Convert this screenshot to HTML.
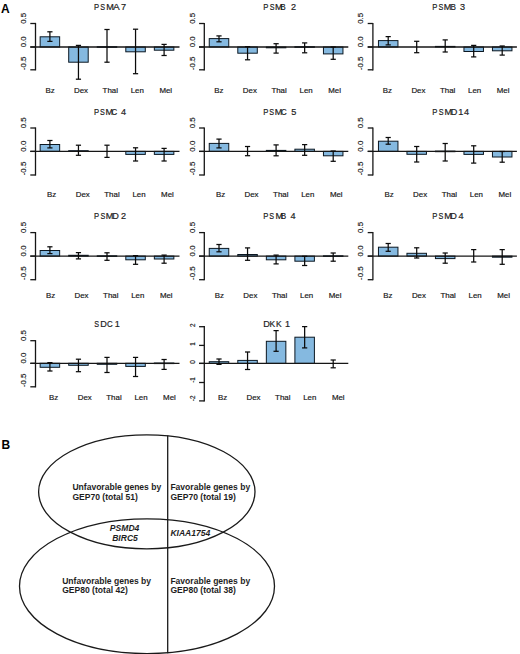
<!DOCTYPE html>
<html><head><meta charset="utf-8"><title>Figure</title>
<style>
html,body{margin:0;padding:0;background:#fff;}
body{width:520px;height:654px;overflow:hidden;}
svg{display:block;font-family:"Liberation Sans", sans-serif;}
</style></head>
<body>
<svg width="520" height="654" viewBox="0 0 520 654">
<rect x="0" y="0" width="520" height="654" fill="#fff"/>
<line x1="35.50" y1="22.90" x2="35.50" y2="70.40" stroke="#161616" stroke-width="1.3"/>
<line x1="30.30" y1="23.50" x2="35.50" y2="23.50" stroke="#161616" stroke-width="1.3"/>
<text transform="translate(25.70,23.80) rotate(-90)" font-size="7.9" fill="#161616" stroke="#161616" stroke-width="0.18">0.5</text>
<line x1="30.30" y1="47.00" x2="35.50" y2="47.00" stroke="#161616" stroke-width="1.3"/>
<text transform="translate(25.70,47.30) rotate(-90)" font-size="7.9" fill="#161616" stroke="#161616" stroke-width="0.18">0.0</text>
<line x1="30.30" y1="69.80" x2="35.50" y2="69.80" stroke="#161616" stroke-width="1.3"/>
<text transform="translate(25.70,70.10) rotate(-90)" font-size="7.9" fill="#161616" stroke="#161616" stroke-width="0.18">-0.5</text>
<rect x="40.15" y="36.80" width="19.50" height="10.20" fill="#85b9e0" stroke="#0c1822" stroke-width="1"/>
<rect x="68.70" y="47.00" width="19.50" height="15.20" fill="#85b9e0" stroke="#0c1822" stroke-width="1"/>
<rect x="97.25" y="46.70" width="19.50" height="0.60" fill="#85b9e0" stroke="#0c1822" stroke-width="1"/>
<rect x="125.80" y="47.00" width="19.50" height="4.80" fill="#85b9e0" stroke="#0c1822" stroke-width="1"/>
<rect x="154.35" y="47.00" width="19.50" height="3.20" fill="#85b9e0" stroke="#0c1822" stroke-width="1"/>
<line x1="30.30" y1="47.00" x2="179.50" y2="47.00" stroke="#161616" stroke-width="1.35"/>
<line x1="49.90" y1="31.80" x2="49.90" y2="41.40" stroke="#0a0a0a" stroke-width="1.25"/>
<line x1="47.30" y1="31.80" x2="52.50" y2="31.80" stroke="#0a0a0a" stroke-width="1.25"/>
<line x1="47.30" y1="41.40" x2="52.50" y2="41.40" stroke="#0a0a0a" stroke-width="1.25"/>
<line x1="78.45" y1="45.40" x2="78.45" y2="79.20" stroke="#0a0a0a" stroke-width="1.25"/>
<line x1="75.85" y1="45.40" x2="81.05" y2="45.40" stroke="#0a0a0a" stroke-width="1.25"/>
<line x1="75.85" y1="79.20" x2="81.05" y2="79.20" stroke="#0a0a0a" stroke-width="1.25"/>
<line x1="107.00" y1="29.50" x2="107.00" y2="62.20" stroke="#0a0a0a" stroke-width="1.25"/>
<line x1="104.40" y1="29.50" x2="109.60" y2="29.50" stroke="#0a0a0a" stroke-width="1.25"/>
<line x1="104.40" y1="62.20" x2="109.60" y2="62.20" stroke="#0a0a0a" stroke-width="1.25"/>
<line x1="135.55" y1="29.20" x2="135.55" y2="73.70" stroke="#0a0a0a" stroke-width="1.25"/>
<line x1="132.95" y1="29.20" x2="138.15" y2="29.20" stroke="#0a0a0a" stroke-width="1.25"/>
<line x1="132.95" y1="73.70" x2="138.15" y2="73.70" stroke="#0a0a0a" stroke-width="1.25"/>
<line x1="164.10" y1="44.40" x2="164.10" y2="55.50" stroke="#0a0a0a" stroke-width="1.25"/>
<line x1="161.50" y1="44.40" x2="166.70" y2="44.40" stroke="#0a0a0a" stroke-width="1.25"/>
<line x1="161.50" y1="55.50" x2="166.70" y2="55.50" stroke="#0a0a0a" stroke-width="1.25"/>
<text x="45.40" y="92.80" font-size="7.9" text-anchor="start" font-weight="normal" font-style="normal" fill="#161616" stroke="#161616" stroke-width="0.18" >Bz</text>
<text x="74.00" y="92.80" font-size="7.9" text-anchor="start" font-weight="normal" font-style="normal" fill="#161616" stroke="#161616" stroke-width="0.18" >Dex</text>
<text x="102.60" y="92.80" font-size="7.9" text-anchor="start" font-weight="normal" font-style="normal" fill="#161616" stroke="#161616" stroke-width="0.18" >Thal</text>
<text x="130.70" y="92.80" font-size="7.9" text-anchor="start" font-weight="normal" font-style="normal" fill="#161616" stroke="#161616" stroke-width="0.18" >Len</text>
<text x="159.40" y="92.80" font-size="7.9" text-anchor="start" font-weight="normal" font-style="normal" fill="#161616" stroke="#161616" stroke-width="0.18" >Mel</text>
<g fill="#222" stroke="#222" stroke-width="0.2"><text transform="translate(93.97,9.80) scale(0.8,1)" font-size="9.6">P</text><text transform="translate(100.27,9.80) scale(0.75,1)" font-size="9.6">S</text><text transform="translate(106.35,9.80) scale(0.95,1)" font-size="9.6">M</text><text transform="translate(112.98,9.80) scale(1.05,1)" font-size="9.6">A</text><text transform="translate(121.03,9.80) scale(0.95,1)" font-size="9.6">7</text></g>
<line x1="204.30" y1="22.90" x2="204.30" y2="70.40" stroke="#161616" stroke-width="1.3"/>
<line x1="199.10" y1="23.50" x2="204.30" y2="23.50" stroke="#161616" stroke-width="1.3"/>
<text transform="translate(194.50,23.80) rotate(-90)" font-size="7.9" fill="#161616" stroke="#161616" stroke-width="0.18">0.5</text>
<line x1="199.10" y1="47.00" x2="204.30" y2="47.00" stroke="#161616" stroke-width="1.3"/>
<text transform="translate(194.50,47.30) rotate(-90)" font-size="7.9" fill="#161616" stroke="#161616" stroke-width="0.18">0.0</text>
<line x1="199.10" y1="69.80" x2="204.30" y2="69.80" stroke="#161616" stroke-width="1.3"/>
<text transform="translate(194.50,70.10) rotate(-90)" font-size="7.9" fill="#161616" stroke="#161616" stroke-width="0.18">-0.5</text>
<rect x="209.25" y="38.60" width="19.50" height="8.40" fill="#85b9e0" stroke="#0c1822" stroke-width="1"/>
<rect x="237.80" y="47.00" width="19.50" height="6.20" fill="#85b9e0" stroke="#0c1822" stroke-width="1"/>
<rect x="266.35" y="47.00" width="19.50" height="0.80" fill="#85b9e0" stroke="#0c1822" stroke-width="1"/>
<rect x="294.90" y="46.70" width="19.50" height="0.60" fill="#85b9e0" stroke="#0c1822" stroke-width="1"/>
<rect x="323.45" y="47.00" width="19.50" height="6.90" fill="#85b9e0" stroke="#0c1822" stroke-width="1"/>
<line x1="199.10" y1="47.00" x2="348.30" y2="47.00" stroke="#161616" stroke-width="1.35"/>
<line x1="219.00" y1="35.90" x2="219.00" y2="41.80" stroke="#0a0a0a" stroke-width="1.25"/>
<line x1="216.40" y1="35.90" x2="221.60" y2="35.90" stroke="#0a0a0a" stroke-width="1.25"/>
<line x1="216.40" y1="41.80" x2="221.60" y2="41.80" stroke="#0a0a0a" stroke-width="1.25"/>
<line x1="247.55" y1="46.60" x2="247.55" y2="59.80" stroke="#0a0a0a" stroke-width="1.25"/>
<line x1="244.95" y1="46.60" x2="250.15" y2="46.60" stroke="#0a0a0a" stroke-width="1.25"/>
<line x1="244.95" y1="59.80" x2="250.15" y2="59.80" stroke="#0a0a0a" stroke-width="1.25"/>
<line x1="276.10" y1="43.70" x2="276.10" y2="53.10" stroke="#0a0a0a" stroke-width="1.25"/>
<line x1="273.50" y1="43.70" x2="278.70" y2="43.70" stroke="#0a0a0a" stroke-width="1.25"/>
<line x1="273.50" y1="53.10" x2="278.70" y2="53.10" stroke="#0a0a0a" stroke-width="1.25"/>
<line x1="304.65" y1="42.90" x2="304.65" y2="52.80" stroke="#0a0a0a" stroke-width="1.25"/>
<line x1="302.05" y1="42.90" x2="307.25" y2="42.90" stroke="#0a0a0a" stroke-width="1.25"/>
<line x1="302.05" y1="52.80" x2="307.25" y2="52.80" stroke="#0a0a0a" stroke-width="1.25"/>
<line x1="333.20" y1="47.00" x2="333.20" y2="59.30" stroke="#0a0a0a" stroke-width="1.25"/>
<line x1="330.60" y1="47.00" x2="335.80" y2="47.00" stroke="#0a0a0a" stroke-width="1.25"/>
<line x1="330.60" y1="59.30" x2="335.80" y2="59.30" stroke="#0a0a0a" stroke-width="1.25"/>
<text x="214.20" y="92.80" font-size="7.9" text-anchor="start" font-weight="normal" font-style="normal" fill="#161616" stroke="#161616" stroke-width="0.18" >Bz</text>
<text x="242.80" y="92.80" font-size="7.9" text-anchor="start" font-weight="normal" font-style="normal" fill="#161616" stroke="#161616" stroke-width="0.18" >Dex</text>
<text x="271.40" y="92.80" font-size="7.9" text-anchor="start" font-weight="normal" font-style="normal" fill="#161616" stroke="#161616" stroke-width="0.18" >Thal</text>
<text x="299.50" y="92.80" font-size="7.9" text-anchor="start" font-weight="normal" font-style="normal" fill="#161616" stroke="#161616" stroke-width="0.18" >Len</text>
<text x="328.20" y="92.80" font-size="7.9" text-anchor="start" font-weight="normal" font-style="normal" fill="#161616" stroke="#161616" stroke-width="0.18" >Mel</text>
<g fill="#222" stroke="#222" stroke-width="0.2"><text transform="translate(263.37,9.80) scale(0.8,1)" font-size="9.6">P</text><text transform="translate(269.67,9.80) scale(0.75,1)" font-size="9.6">S</text><text transform="translate(275.05,9.80) scale(0.95,1)" font-size="9.6">M</text><text transform="translate(280.33,9.80) scale(0.85,1)" font-size="9.6">B</text><text transform="translate(291.04,9.80) scale(0.95,1)" font-size="9.6">2</text></g>
<line x1="372.90" y1="22.90" x2="372.90" y2="70.40" stroke="#161616" stroke-width="1.3"/>
<line x1="367.70" y1="23.50" x2="372.90" y2="23.50" stroke="#161616" stroke-width="1.3"/>
<text transform="translate(363.10,23.80) rotate(-90)" font-size="7.9" fill="#161616" stroke="#161616" stroke-width="0.18">0.5</text>
<line x1="367.70" y1="47.00" x2="372.90" y2="47.00" stroke="#161616" stroke-width="1.3"/>
<text transform="translate(363.10,47.30) rotate(-90)" font-size="7.9" fill="#161616" stroke="#161616" stroke-width="0.18">0.0</text>
<line x1="367.70" y1="69.80" x2="372.90" y2="69.80" stroke="#161616" stroke-width="1.3"/>
<text transform="translate(363.10,70.10) rotate(-90)" font-size="7.9" fill="#161616" stroke="#161616" stroke-width="0.18">-0.5</text>
<rect x="378.45" y="40.60" width="19.50" height="6.40" fill="#85b9e0" stroke="#0c1822" stroke-width="1"/>
<rect x="435.45" y="46.40" width="19.50" height="0.60" fill="#85b9e0" stroke="#0c1822" stroke-width="1"/>
<rect x="463.95" y="47.00" width="19.50" height="4.50" fill="#85b9e0" stroke="#0c1822" stroke-width="1"/>
<rect x="492.45" y="47.00" width="19.50" height="3.80" fill="#85b9e0" stroke="#0c1822" stroke-width="1"/>
<line x1="367.70" y1="47.00" x2="516.90" y2="47.00" stroke="#161616" stroke-width="1.35"/>
<line x1="388.20" y1="36.60" x2="388.20" y2="44.90" stroke="#0a0a0a" stroke-width="1.25"/>
<line x1="385.60" y1="36.60" x2="390.80" y2="36.60" stroke="#0a0a0a" stroke-width="1.25"/>
<line x1="385.60" y1="44.90" x2="390.80" y2="44.90" stroke="#0a0a0a" stroke-width="1.25"/>
<line x1="416.70" y1="41.30" x2="416.70" y2="52.70" stroke="#0a0a0a" stroke-width="1.25"/>
<line x1="414.10" y1="41.30" x2="419.30" y2="41.30" stroke="#0a0a0a" stroke-width="1.25"/>
<line x1="414.10" y1="52.70" x2="419.30" y2="52.70" stroke="#0a0a0a" stroke-width="1.25"/>
<line x1="445.20" y1="39.90" x2="445.20" y2="52.00" stroke="#0a0a0a" stroke-width="1.25"/>
<line x1="442.60" y1="39.90" x2="447.80" y2="39.90" stroke="#0a0a0a" stroke-width="1.25"/>
<line x1="442.60" y1="52.00" x2="447.80" y2="52.00" stroke="#0a0a0a" stroke-width="1.25"/>
<line x1="473.70" y1="45.40" x2="473.70" y2="56.90" stroke="#0a0a0a" stroke-width="1.25"/>
<line x1="471.10" y1="45.40" x2="476.30" y2="45.40" stroke="#0a0a0a" stroke-width="1.25"/>
<line x1="471.10" y1="56.90" x2="476.30" y2="56.90" stroke="#0a0a0a" stroke-width="1.25"/>
<line x1="502.20" y1="46.00" x2="502.20" y2="55.10" stroke="#0a0a0a" stroke-width="1.25"/>
<line x1="499.60" y1="46.00" x2="504.80" y2="46.00" stroke="#0a0a0a" stroke-width="1.25"/>
<line x1="499.60" y1="55.10" x2="504.80" y2="55.10" stroke="#0a0a0a" stroke-width="1.25"/>
<text x="382.80" y="92.80" font-size="7.9" text-anchor="start" font-weight="normal" font-style="normal" fill="#161616" stroke="#161616" stroke-width="0.18" >Bz</text>
<text x="411.40" y="92.80" font-size="7.9" text-anchor="start" font-weight="normal" font-style="normal" fill="#161616" stroke="#161616" stroke-width="0.18" >Dex</text>
<text x="440.00" y="92.80" font-size="7.9" text-anchor="start" font-weight="normal" font-style="normal" fill="#161616" stroke="#161616" stroke-width="0.18" >Thal</text>
<text x="468.10" y="92.80" font-size="7.9" text-anchor="start" font-weight="normal" font-style="normal" fill="#161616" stroke="#161616" stroke-width="0.18" >Len</text>
<text x="496.80" y="92.80" font-size="7.9" text-anchor="start" font-weight="normal" font-style="normal" fill="#161616" stroke="#161616" stroke-width="0.18" >Mel</text>
<g fill="#222" stroke="#222" stroke-width="0.2"><text transform="translate(432.17,9.80) scale(0.8,1)" font-size="9.6">P</text><text transform="translate(438.47,9.80) scale(0.75,1)" font-size="9.6">S</text><text transform="translate(443.75,9.80) scale(0.95,1)" font-size="9.6">M</text><text transform="translate(450.43,9.80) scale(0.85,1)" font-size="9.6">B</text><text transform="translate(459.95,9.80) scale(0.95,1)" font-size="9.6">3</text></g>
<line x1="35.50" y1="127.40" x2="35.50" y2="175.60" stroke="#161616" stroke-width="1.3"/>
<line x1="30.30" y1="128.00" x2="35.50" y2="128.00" stroke="#161616" stroke-width="1.3"/>
<text transform="translate(25.70,128.30) rotate(-90)" font-size="7.9" fill="#161616" stroke="#161616" stroke-width="0.18">0.5</text>
<line x1="30.30" y1="151.40" x2="35.50" y2="151.40" stroke="#161616" stroke-width="1.3"/>
<text transform="translate(25.70,151.70) rotate(-90)" font-size="7.9" fill="#161616" stroke="#161616" stroke-width="0.18">0.0</text>
<line x1="30.30" y1="175.00" x2="35.50" y2="175.00" stroke="#161616" stroke-width="1.3"/>
<text transform="translate(25.70,175.30) rotate(-90)" font-size="7.9" fill="#161616" stroke="#161616" stroke-width="0.18">-0.5</text>
<rect x="40.15" y="144.50" width="19.50" height="6.90" fill="#85b9e0" stroke="#0c1822" stroke-width="1"/>
<rect x="68.70" y="150.70" width="19.50" height="0.70" fill="#85b9e0" stroke="#0c1822" stroke-width="1"/>
<rect x="125.80" y="151.40" width="19.50" height="3.00" fill="#85b9e0" stroke="#0c1822" stroke-width="1"/>
<rect x="154.35" y="151.40" width="19.50" height="3.00" fill="#85b9e0" stroke="#0c1822" stroke-width="1"/>
<line x1="30.30" y1="151.40" x2="179.50" y2="151.40" stroke="#161616" stroke-width="1.35"/>
<line x1="49.90" y1="140.50" x2="49.90" y2="147.90" stroke="#0a0a0a" stroke-width="1.25"/>
<line x1="47.30" y1="140.50" x2="52.50" y2="140.50" stroke="#0a0a0a" stroke-width="1.25"/>
<line x1="47.30" y1="147.90" x2="52.50" y2="147.90" stroke="#0a0a0a" stroke-width="1.25"/>
<line x1="78.45" y1="145.20" x2="78.45" y2="155.30" stroke="#0a0a0a" stroke-width="1.25"/>
<line x1="75.85" y1="145.20" x2="81.05" y2="145.20" stroke="#0a0a0a" stroke-width="1.25"/>
<line x1="75.85" y1="155.30" x2="81.05" y2="155.30" stroke="#0a0a0a" stroke-width="1.25"/>
<line x1="107.00" y1="145.20" x2="107.00" y2="157.40" stroke="#0a0a0a" stroke-width="1.25"/>
<line x1="104.40" y1="145.20" x2="109.60" y2="145.20" stroke="#0a0a0a" stroke-width="1.25"/>
<line x1="104.40" y1="157.40" x2="109.60" y2="157.40" stroke="#0a0a0a" stroke-width="1.25"/>
<line x1="135.55" y1="147.80" x2="135.55" y2="161.00" stroke="#0a0a0a" stroke-width="1.25"/>
<line x1="132.95" y1="147.80" x2="138.15" y2="147.80" stroke="#0a0a0a" stroke-width="1.25"/>
<line x1="132.95" y1="161.00" x2="138.15" y2="161.00" stroke="#0a0a0a" stroke-width="1.25"/>
<line x1="164.10" y1="148.40" x2="164.10" y2="161.00" stroke="#0a0a0a" stroke-width="1.25"/>
<line x1="161.50" y1="148.40" x2="166.70" y2="148.40" stroke="#0a0a0a" stroke-width="1.25"/>
<line x1="161.50" y1="161.00" x2="166.70" y2="161.00" stroke="#0a0a0a" stroke-width="1.25"/>
<text x="47.10" y="196.90" font-size="7.9" text-anchor="start" font-weight="normal" font-style="normal" fill="#161616" stroke="#161616" stroke-width="0.18" >Bz</text>
<text x="75.70" y="196.90" font-size="7.9" text-anchor="start" font-weight="normal" font-style="normal" fill="#161616" stroke="#161616" stroke-width="0.18" >Dex</text>
<text x="104.30" y="196.90" font-size="7.9" text-anchor="start" font-weight="normal" font-style="normal" fill="#161616" stroke="#161616" stroke-width="0.18" >Thal</text>
<text x="132.40" y="196.90" font-size="7.9" text-anchor="start" font-weight="normal" font-style="normal" fill="#161616" stroke="#161616" stroke-width="0.18" >Len</text>
<text x="161.10" y="196.90" font-size="7.9" text-anchor="start" font-weight="normal" font-style="normal" fill="#161616" stroke="#161616" stroke-width="0.18" >Mel</text>
<g fill="#222" stroke="#222" stroke-width="0.2"><text transform="translate(93.97,114.80) scale(0.8,1)" font-size="9.6">P</text><text transform="translate(100.07,114.80) scale(0.75,1)" font-size="9.6">S</text><text transform="translate(105.45,114.80) scale(0.95,1)" font-size="9.6">M</text><text transform="translate(111.50,114.80) scale(0.82,1)" font-size="9.6">C</text><text transform="translate(120.99,114.80) scale(0.95,1)" font-size="9.6">4</text></g>
<line x1="204.30" y1="127.40" x2="204.30" y2="175.60" stroke="#161616" stroke-width="1.3"/>
<line x1="199.10" y1="128.00" x2="204.30" y2="128.00" stroke="#161616" stroke-width="1.3"/>
<text transform="translate(194.50,128.30) rotate(-90)" font-size="7.9" fill="#161616" stroke="#161616" stroke-width="0.18">0.5</text>
<line x1="199.10" y1="151.40" x2="204.30" y2="151.40" stroke="#161616" stroke-width="1.3"/>
<text transform="translate(194.50,151.70) rotate(-90)" font-size="7.9" fill="#161616" stroke="#161616" stroke-width="0.18">0.0</text>
<line x1="199.10" y1="175.00" x2="204.30" y2="175.00" stroke="#161616" stroke-width="1.3"/>
<text transform="translate(194.50,175.30) rotate(-90)" font-size="7.9" fill="#161616" stroke="#161616" stroke-width="0.18">-0.5</text>
<rect x="209.25" y="143.40" width="19.50" height="8.00" fill="#85b9e0" stroke="#0c1822" stroke-width="1"/>
<rect x="266.35" y="150.40" width="19.50" height="1.00" fill="#85b9e0" stroke="#0c1822" stroke-width="1"/>
<rect x="294.90" y="149.20" width="19.50" height="2.20" fill="#85b9e0" stroke="#0c1822" stroke-width="1"/>
<rect x="323.45" y="151.40" width="19.50" height="4.40" fill="#85b9e0" stroke="#0c1822" stroke-width="1"/>
<line x1="199.10" y1="151.40" x2="348.30" y2="151.40" stroke="#161616" stroke-width="1.35"/>
<line x1="219.00" y1="139.10" x2="219.00" y2="147.90" stroke="#0a0a0a" stroke-width="1.25"/>
<line x1="216.40" y1="139.10" x2="221.60" y2="139.10" stroke="#0a0a0a" stroke-width="1.25"/>
<line x1="216.40" y1="147.90" x2="221.60" y2="147.90" stroke="#0a0a0a" stroke-width="1.25"/>
<line x1="247.55" y1="146.50" x2="247.55" y2="155.70" stroke="#0a0a0a" stroke-width="1.25"/>
<line x1="244.95" y1="146.50" x2="250.15" y2="146.50" stroke="#0a0a0a" stroke-width="1.25"/>
<line x1="244.95" y1="155.70" x2="250.15" y2="155.70" stroke="#0a0a0a" stroke-width="1.25"/>
<line x1="276.10" y1="144.90" x2="276.10" y2="155.80" stroke="#0a0a0a" stroke-width="1.25"/>
<line x1="273.50" y1="144.90" x2="278.70" y2="144.90" stroke="#0a0a0a" stroke-width="1.25"/>
<line x1="273.50" y1="155.80" x2="278.70" y2="155.80" stroke="#0a0a0a" stroke-width="1.25"/>
<line x1="304.65" y1="144.60" x2="304.65" y2="155.30" stroke="#0a0a0a" stroke-width="1.25"/>
<line x1="302.05" y1="144.60" x2="307.25" y2="144.60" stroke="#0a0a0a" stroke-width="1.25"/>
<line x1="302.05" y1="155.30" x2="307.25" y2="155.30" stroke="#0a0a0a" stroke-width="1.25"/>
<line x1="333.20" y1="151.00" x2="333.20" y2="161.30" stroke="#0a0a0a" stroke-width="1.25"/>
<line x1="330.60" y1="151.00" x2="335.80" y2="151.00" stroke="#0a0a0a" stroke-width="1.25"/>
<line x1="330.60" y1="161.30" x2="335.80" y2="161.30" stroke="#0a0a0a" stroke-width="1.25"/>
<text x="215.90" y="196.90" font-size="7.9" text-anchor="start" font-weight="normal" font-style="normal" fill="#161616" stroke="#161616" stroke-width="0.18" >Bz</text>
<text x="244.50" y="196.90" font-size="7.9" text-anchor="start" font-weight="normal" font-style="normal" fill="#161616" stroke="#161616" stroke-width="0.18" >Dex</text>
<text x="273.10" y="196.90" font-size="7.9" text-anchor="start" font-weight="normal" font-style="normal" fill="#161616" stroke="#161616" stroke-width="0.18" >Thal</text>
<text x="301.20" y="196.90" font-size="7.9" text-anchor="start" font-weight="normal" font-style="normal" fill="#161616" stroke="#161616" stroke-width="0.18" >Len</text>
<text x="329.90" y="196.90" font-size="7.9" text-anchor="start" font-weight="normal" font-style="normal" fill="#161616" stroke="#161616" stroke-width="0.18" >Mel</text>
<g fill="#222" stroke="#222" stroke-width="0.2"><text transform="translate(263.17,114.80) scale(0.8,1)" font-size="9.6">P</text><text transform="translate(269.27,114.80) scale(0.75,1)" font-size="9.6">S</text><text transform="translate(274.65,114.80) scale(0.95,1)" font-size="9.6">M</text><text transform="translate(281.10,114.80) scale(0.82,1)" font-size="9.6">C</text><text transform="translate(291.14,114.80) scale(0.95,1)" font-size="9.6">5</text></g>
<line x1="372.90" y1="127.40" x2="372.90" y2="175.60" stroke="#161616" stroke-width="1.3"/>
<line x1="367.70" y1="128.00" x2="372.90" y2="128.00" stroke="#161616" stroke-width="1.3"/>
<text transform="translate(363.10,128.30) rotate(-90)" font-size="7.9" fill="#161616" stroke="#161616" stroke-width="0.18">0.5</text>
<line x1="367.70" y1="151.40" x2="372.90" y2="151.40" stroke="#161616" stroke-width="1.3"/>
<text transform="translate(363.10,151.70) rotate(-90)" font-size="7.9" fill="#161616" stroke="#161616" stroke-width="0.18">0.0</text>
<line x1="367.70" y1="175.00" x2="372.90" y2="175.00" stroke="#161616" stroke-width="1.3"/>
<text transform="translate(363.10,175.30) rotate(-90)" font-size="7.9" fill="#161616" stroke="#161616" stroke-width="0.18">-0.5</text>
<rect x="378.45" y="141.20" width="19.50" height="10.20" fill="#85b9e0" stroke="#0c1822" stroke-width="1"/>
<rect x="406.95" y="151.40" width="19.50" height="2.90" fill="#85b9e0" stroke="#0c1822" stroke-width="1"/>
<rect x="435.45" y="151.10" width="19.50" height="0.60" fill="#85b9e0" stroke="#0c1822" stroke-width="1"/>
<rect x="463.95" y="151.40" width="19.50" height="3.00" fill="#85b9e0" stroke="#0c1822" stroke-width="1"/>
<rect x="492.45" y="151.40" width="19.50" height="5.60" fill="#85b9e0" stroke="#0c1822" stroke-width="1"/>
<line x1="367.70" y1="151.40" x2="516.90" y2="151.40" stroke="#161616" stroke-width="1.35"/>
<line x1="388.20" y1="137.50" x2="388.20" y2="144.20" stroke="#0a0a0a" stroke-width="1.25"/>
<line x1="385.60" y1="137.50" x2="390.80" y2="137.50" stroke="#0a0a0a" stroke-width="1.25"/>
<line x1="385.60" y1="144.20" x2="390.80" y2="144.20" stroke="#0a0a0a" stroke-width="1.25"/>
<line x1="416.70" y1="146.50" x2="416.70" y2="162.00" stroke="#0a0a0a" stroke-width="1.25"/>
<line x1="414.10" y1="146.50" x2="419.30" y2="146.50" stroke="#0a0a0a" stroke-width="1.25"/>
<line x1="414.10" y1="162.00" x2="419.30" y2="162.00" stroke="#0a0a0a" stroke-width="1.25"/>
<line x1="445.20" y1="143.50" x2="445.20" y2="161.00" stroke="#0a0a0a" stroke-width="1.25"/>
<line x1="442.60" y1="143.50" x2="447.80" y2="143.50" stroke="#0a0a0a" stroke-width="1.25"/>
<line x1="442.60" y1="161.00" x2="447.80" y2="161.00" stroke="#0a0a0a" stroke-width="1.25"/>
<line x1="473.70" y1="145.80" x2="473.70" y2="163.10" stroke="#0a0a0a" stroke-width="1.25"/>
<line x1="471.10" y1="145.80" x2="476.30" y2="145.80" stroke="#0a0a0a" stroke-width="1.25"/>
<line x1="471.10" y1="163.10" x2="476.30" y2="163.10" stroke="#0a0a0a" stroke-width="1.25"/>
<line x1="502.20" y1="151.50" x2="502.20" y2="162.20" stroke="#0a0a0a" stroke-width="1.25"/>
<line x1="499.60" y1="151.50" x2="504.80" y2="151.50" stroke="#0a0a0a" stroke-width="1.25"/>
<line x1="499.60" y1="162.20" x2="504.80" y2="162.20" stroke="#0a0a0a" stroke-width="1.25"/>
<text x="384.50" y="196.90" font-size="7.9" text-anchor="start" font-weight="normal" font-style="normal" fill="#161616" stroke="#161616" stroke-width="0.18" >Bz</text>
<text x="413.10" y="196.90" font-size="7.9" text-anchor="start" font-weight="normal" font-style="normal" fill="#161616" stroke="#161616" stroke-width="0.18" >Dex</text>
<text x="441.70" y="196.90" font-size="7.9" text-anchor="start" font-weight="normal" font-style="normal" fill="#161616" stroke="#161616" stroke-width="0.18" >Thal</text>
<text x="469.80" y="196.90" font-size="7.9" text-anchor="start" font-weight="normal" font-style="normal" fill="#161616" stroke="#161616" stroke-width="0.18" >Len</text>
<text x="498.50" y="196.90" font-size="7.9" text-anchor="start" font-weight="normal" font-style="normal" fill="#161616" stroke="#161616" stroke-width="0.18" >Mel</text>
<g fill="#222" stroke="#222" stroke-width="0.2"><text transform="translate(432.27,114.80) scale(0.8,1)" font-size="9.6">P</text><text transform="translate(438.77,114.80) scale(0.75,1)" font-size="9.6">S</text><text transform="translate(444.55,114.80) scale(0.95,1)" font-size="9.6">M</text><text transform="translate(450.65,114.80) scale(0.95,1)" font-size="9.6">D</text><text transform="translate(458.31,114.80) scale(0.95,1)" font-size="9.6">1</text><text transform="translate(464.09,114.80) scale(0.95,1)" font-size="9.6">4</text></g>
<line x1="35.50" y1="232.00" x2="35.50" y2="280.30" stroke="#161616" stroke-width="1.3"/>
<line x1="30.30" y1="232.60" x2="35.50" y2="232.60" stroke="#161616" stroke-width="1.3"/>
<text transform="translate(25.70,232.90) rotate(-90)" font-size="7.9" fill="#161616" stroke="#161616" stroke-width="0.18">0.5</text>
<line x1="30.30" y1="256.10" x2="35.50" y2="256.10" stroke="#161616" stroke-width="1.3"/>
<text transform="translate(25.70,256.40) rotate(-90)" font-size="7.9" fill="#161616" stroke="#161616" stroke-width="0.18">0.0</text>
<line x1="30.30" y1="279.70" x2="35.50" y2="279.70" stroke="#161616" stroke-width="1.3"/>
<text transform="translate(25.70,280.00) rotate(-90)" font-size="7.9" fill="#161616" stroke="#161616" stroke-width="0.18">-0.5</text>
<rect x="40.15" y="250.50" width="19.50" height="5.60" fill="#85b9e0" stroke="#0c1822" stroke-width="1"/>
<rect x="68.70" y="255.30" width="19.50" height="0.80" fill="#85b9e0" stroke="#0c1822" stroke-width="1"/>
<rect x="97.25" y="255.80" width="19.50" height="0.60" fill="#85b9e0" stroke="#0c1822" stroke-width="1"/>
<rect x="125.80" y="256.10" width="19.50" height="3.70" fill="#85b9e0" stroke="#0c1822" stroke-width="1"/>
<rect x="154.35" y="256.10" width="19.50" height="2.90" fill="#85b9e0" stroke="#0c1822" stroke-width="1"/>
<line x1="30.30" y1="256.10" x2="179.50" y2="256.10" stroke="#161616" stroke-width="1.35"/>
<line x1="49.90" y1="246.80" x2="49.90" y2="253.60" stroke="#0a0a0a" stroke-width="1.25"/>
<line x1="47.30" y1="246.80" x2="52.50" y2="246.80" stroke="#0a0a0a" stroke-width="1.25"/>
<line x1="47.30" y1="253.60" x2="52.50" y2="253.60" stroke="#0a0a0a" stroke-width="1.25"/>
<line x1="78.45" y1="252.60" x2="78.45" y2="258.90" stroke="#0a0a0a" stroke-width="1.25"/>
<line x1="75.85" y1="252.60" x2="81.05" y2="252.60" stroke="#0a0a0a" stroke-width="1.25"/>
<line x1="75.85" y1="258.90" x2="81.05" y2="258.90" stroke="#0a0a0a" stroke-width="1.25"/>
<line x1="107.00" y1="252.80" x2="107.00" y2="260.30" stroke="#0a0a0a" stroke-width="1.25"/>
<line x1="104.40" y1="252.80" x2="109.60" y2="252.80" stroke="#0a0a0a" stroke-width="1.25"/>
<line x1="104.40" y1="260.30" x2="109.60" y2="260.30" stroke="#0a0a0a" stroke-width="1.25"/>
<line x1="135.55" y1="255.60" x2="135.55" y2="264.30" stroke="#0a0a0a" stroke-width="1.25"/>
<line x1="132.95" y1="255.60" x2="138.15" y2="255.60" stroke="#0a0a0a" stroke-width="1.25"/>
<line x1="132.95" y1="264.30" x2="138.15" y2="264.30" stroke="#0a0a0a" stroke-width="1.25"/>
<line x1="164.10" y1="255.10" x2="164.10" y2="263.20" stroke="#0a0a0a" stroke-width="1.25"/>
<line x1="161.50" y1="255.10" x2="166.70" y2="255.10" stroke="#0a0a0a" stroke-width="1.25"/>
<line x1="161.50" y1="263.20" x2="166.70" y2="263.20" stroke="#0a0a0a" stroke-width="1.25"/>
<text x="45.90" y="297.90" font-size="7.9" text-anchor="start" font-weight="normal" font-style="normal" fill="#161616" stroke="#161616" stroke-width="0.18" >Bz</text>
<text x="74.50" y="297.90" font-size="7.9" text-anchor="start" font-weight="normal" font-style="normal" fill="#161616" stroke="#161616" stroke-width="0.18" >Dex</text>
<text x="103.10" y="297.90" font-size="7.9" text-anchor="start" font-weight="normal" font-style="normal" fill="#161616" stroke="#161616" stroke-width="0.18" >Thal</text>
<text x="131.20" y="297.90" font-size="7.9" text-anchor="start" font-weight="normal" font-style="normal" fill="#161616" stroke="#161616" stroke-width="0.18" >Len</text>
<text x="159.90" y="297.90" font-size="7.9" text-anchor="start" font-weight="normal" font-style="normal" fill="#161616" stroke="#161616" stroke-width="0.18" >Mel</text>
<g fill="#222" stroke="#222" stroke-width="0.2"><text transform="translate(93.97,219.40) scale(0.8,1)" font-size="9.6">P</text><text transform="translate(100.47,219.40) scale(0.75,1)" font-size="9.6">S</text><text transform="translate(105.75,219.40) scale(0.95,1)" font-size="9.6">M</text><text transform="translate(112.35,219.40) scale(0.95,1)" font-size="9.6">D</text><text transform="translate(121.04,219.40) scale(0.95,1)" font-size="9.6">2</text></g>
<line x1="204.30" y1="232.00" x2="204.30" y2="280.30" stroke="#161616" stroke-width="1.3"/>
<line x1="199.10" y1="232.60" x2="204.30" y2="232.60" stroke="#161616" stroke-width="1.3"/>
<text transform="translate(194.50,232.90) rotate(-90)" font-size="7.9" fill="#161616" stroke="#161616" stroke-width="0.18">0.5</text>
<line x1="199.10" y1="256.10" x2="204.30" y2="256.10" stroke="#161616" stroke-width="1.3"/>
<text transform="translate(194.50,256.40) rotate(-90)" font-size="7.9" fill="#161616" stroke="#161616" stroke-width="0.18">0.0</text>
<line x1="199.10" y1="279.70" x2="204.30" y2="279.70" stroke="#161616" stroke-width="1.3"/>
<text transform="translate(194.50,280.00) rotate(-90)" font-size="7.9" fill="#161616" stroke="#161616" stroke-width="0.18">-0.5</text>
<rect x="209.25" y="248.40" width="19.50" height="7.70" fill="#85b9e0" stroke="#0c1822" stroke-width="1"/>
<rect x="237.80" y="254.50" width="19.50" height="1.60" fill="#85b9e0" stroke="#0c1822" stroke-width="1"/>
<rect x="266.35" y="256.10" width="19.50" height="3.70" fill="#85b9e0" stroke="#0c1822" stroke-width="1"/>
<rect x="294.90" y="256.10" width="19.50" height="5.10" fill="#85b9e0" stroke="#0c1822" stroke-width="1"/>
<rect x="323.45" y="255.80" width="19.50" height="0.60" fill="#85b9e0" stroke="#0c1822" stroke-width="1"/>
<line x1="199.10" y1="256.10" x2="348.30" y2="256.10" stroke="#161616" stroke-width="1.35"/>
<line x1="219.00" y1="244.50" x2="219.00" y2="251.80" stroke="#0a0a0a" stroke-width="1.25"/>
<line x1="216.40" y1="244.50" x2="221.60" y2="244.50" stroke="#0a0a0a" stroke-width="1.25"/>
<line x1="216.40" y1="251.80" x2="221.60" y2="251.80" stroke="#0a0a0a" stroke-width="1.25"/>
<line x1="247.55" y1="247.90" x2="247.55" y2="260.30" stroke="#0a0a0a" stroke-width="1.25"/>
<line x1="244.95" y1="247.90" x2="250.15" y2="247.90" stroke="#0a0a0a" stroke-width="1.25"/>
<line x1="244.95" y1="260.30" x2="250.15" y2="260.30" stroke="#0a0a0a" stroke-width="1.25"/>
<line x1="276.10" y1="255.10" x2="276.10" y2="263.90" stroke="#0a0a0a" stroke-width="1.25"/>
<line x1="273.50" y1="255.10" x2="278.70" y2="255.10" stroke="#0a0a0a" stroke-width="1.25"/>
<line x1="273.50" y1="263.90" x2="278.70" y2="263.90" stroke="#0a0a0a" stroke-width="1.25"/>
<line x1="304.65" y1="256.30" x2="304.65" y2="265.50" stroke="#0a0a0a" stroke-width="1.25"/>
<line x1="302.05" y1="256.30" x2="307.25" y2="256.30" stroke="#0a0a0a" stroke-width="1.25"/>
<line x1="302.05" y1="265.50" x2="307.25" y2="265.50" stroke="#0a0a0a" stroke-width="1.25"/>
<line x1="333.20" y1="253.00" x2="333.20" y2="261.20" stroke="#0a0a0a" stroke-width="1.25"/>
<line x1="330.60" y1="253.00" x2="335.80" y2="253.00" stroke="#0a0a0a" stroke-width="1.25"/>
<line x1="330.60" y1="261.20" x2="335.80" y2="261.20" stroke="#0a0a0a" stroke-width="1.25"/>
<text x="214.70" y="297.90" font-size="7.9" text-anchor="start" font-weight="normal" font-style="normal" fill="#161616" stroke="#161616" stroke-width="0.18" >Bz</text>
<text x="243.30" y="297.90" font-size="7.9" text-anchor="start" font-weight="normal" font-style="normal" fill="#161616" stroke="#161616" stroke-width="0.18" >Dex</text>
<text x="271.90" y="297.90" font-size="7.9" text-anchor="start" font-weight="normal" font-style="normal" fill="#161616" stroke="#161616" stroke-width="0.18" >Thal</text>
<text x="300.00" y="297.90" font-size="7.9" text-anchor="start" font-weight="normal" font-style="normal" fill="#161616" stroke="#161616" stroke-width="0.18" >Len</text>
<text x="328.70" y="297.90" font-size="7.9" text-anchor="start" font-weight="normal" font-style="normal" fill="#161616" stroke="#161616" stroke-width="0.18" >Mel</text>
<g fill="#222" stroke="#222" stroke-width="0.2"><text transform="translate(263.37,219.40) scale(0.8,1)" font-size="9.6">P</text><text transform="translate(269.27,219.40) scale(0.75,1)" font-size="9.6">S</text><text transform="translate(275.45,219.40) scale(0.95,1)" font-size="9.6">M</text><text transform="translate(280.83,219.40) scale(0.85,1)" font-size="9.6">B</text><text transform="translate(290.59,219.40) scale(0.95,1)" font-size="9.6">4</text></g>
<line x1="372.90" y1="232.00" x2="372.90" y2="280.30" stroke="#161616" stroke-width="1.3"/>
<line x1="367.70" y1="232.60" x2="372.90" y2="232.60" stroke="#161616" stroke-width="1.3"/>
<text transform="translate(363.10,232.90) rotate(-90)" font-size="7.9" fill="#161616" stroke="#161616" stroke-width="0.18">0.5</text>
<line x1="367.70" y1="256.10" x2="372.90" y2="256.10" stroke="#161616" stroke-width="1.3"/>
<text transform="translate(363.10,256.40) rotate(-90)" font-size="7.9" fill="#161616" stroke="#161616" stroke-width="0.18">0.0</text>
<line x1="367.70" y1="279.70" x2="372.90" y2="279.70" stroke="#161616" stroke-width="1.3"/>
<text transform="translate(363.10,280.00) rotate(-90)" font-size="7.9" fill="#161616" stroke="#161616" stroke-width="0.18">-0.5</text>
<rect x="378.45" y="247.20" width="19.50" height="8.90" fill="#85b9e0" stroke="#0c1822" stroke-width="1"/>
<rect x="406.95" y="253.30" width="19.50" height="2.80" fill="#85b9e0" stroke="#0c1822" stroke-width="1"/>
<rect x="435.45" y="256.10" width="19.50" height="2.50" fill="#85b9e0" stroke="#0c1822" stroke-width="1"/>
<rect x="492.45" y="256.10" width="19.50" height="1.10" fill="#85b9e0" stroke="#0c1822" stroke-width="1"/>
<line x1="367.70" y1="256.10" x2="516.90" y2="256.10" stroke="#161616" stroke-width="1.35"/>
<line x1="388.20" y1="243.50" x2="388.20" y2="251.30" stroke="#0a0a0a" stroke-width="1.25"/>
<line x1="385.60" y1="243.50" x2="390.80" y2="243.50" stroke="#0a0a0a" stroke-width="1.25"/>
<line x1="385.60" y1="251.30" x2="390.80" y2="251.30" stroke="#0a0a0a" stroke-width="1.25"/>
<line x1="416.70" y1="247.80" x2="416.70" y2="258.00" stroke="#0a0a0a" stroke-width="1.25"/>
<line x1="414.10" y1="247.80" x2="419.30" y2="247.80" stroke="#0a0a0a" stroke-width="1.25"/>
<line x1="414.10" y1="258.00" x2="419.30" y2="258.00" stroke="#0a0a0a" stroke-width="1.25"/>
<line x1="445.20" y1="253.00" x2="445.20" y2="263.20" stroke="#0a0a0a" stroke-width="1.25"/>
<line x1="442.60" y1="253.00" x2="447.80" y2="253.00" stroke="#0a0a0a" stroke-width="1.25"/>
<line x1="442.60" y1="263.20" x2="447.80" y2="263.20" stroke="#0a0a0a" stroke-width="1.25"/>
<line x1="473.70" y1="249.60" x2="473.70" y2="262.00" stroke="#0a0a0a" stroke-width="1.25"/>
<line x1="471.10" y1="249.60" x2="476.30" y2="249.60" stroke="#0a0a0a" stroke-width="1.25"/>
<line x1="471.10" y1="262.00" x2="476.30" y2="262.00" stroke="#0a0a0a" stroke-width="1.25"/>
<line x1="502.20" y1="249.60" x2="502.20" y2="264.30" stroke="#0a0a0a" stroke-width="1.25"/>
<line x1="499.60" y1="249.60" x2="504.80" y2="249.60" stroke="#0a0a0a" stroke-width="1.25"/>
<line x1="499.60" y1="264.30" x2="504.80" y2="264.30" stroke="#0a0a0a" stroke-width="1.25"/>
<text x="383.30" y="297.90" font-size="7.9" text-anchor="start" font-weight="normal" font-style="normal" fill="#161616" stroke="#161616" stroke-width="0.18" >Bz</text>
<text x="411.90" y="297.90" font-size="7.9" text-anchor="start" font-weight="normal" font-style="normal" fill="#161616" stroke="#161616" stroke-width="0.18" >Dex</text>
<text x="440.50" y="297.90" font-size="7.9" text-anchor="start" font-weight="normal" font-style="normal" fill="#161616" stroke="#161616" stroke-width="0.18" >Thal</text>
<text x="468.60" y="297.90" font-size="7.9" text-anchor="start" font-weight="normal" font-style="normal" fill="#161616" stroke="#161616" stroke-width="0.18" >Len</text>
<text x="497.30" y="297.90" font-size="7.9" text-anchor="start" font-weight="normal" font-style="normal" fill="#161616" stroke="#161616" stroke-width="0.18" >Mel</text>
<g fill="#222" stroke="#222" stroke-width="0.2"><text transform="translate(432.37,219.40) scale(0.8,1)" font-size="9.6">P</text><text transform="translate(438.47,219.40) scale(0.75,1)" font-size="9.6">S</text><text transform="translate(444.15,219.40) scale(0.95,1)" font-size="9.6">M</text><text transform="translate(450.35,219.40) scale(0.95,1)" font-size="9.6">D</text><text transform="translate(458.59,219.40) scale(0.95,1)" font-size="9.6">4</text></g>
<line x1="35.50" y1="340.10" x2="35.50" y2="387.40" stroke="#161616" stroke-width="1.3"/>
<line x1="30.30" y1="340.70" x2="35.50" y2="340.70" stroke="#161616" stroke-width="1.3"/>
<text transform="translate(25.70,341.00) rotate(-90)" font-size="7.9" fill="#161616" stroke="#161616" stroke-width="0.18">0.5</text>
<line x1="30.30" y1="363.30" x2="35.50" y2="363.30" stroke="#161616" stroke-width="1.3"/>
<text transform="translate(25.70,363.60) rotate(-90)" font-size="7.9" fill="#161616" stroke="#161616" stroke-width="0.18">0.0</text>
<line x1="30.30" y1="386.80" x2="35.50" y2="386.80" stroke="#161616" stroke-width="1.3"/>
<text transform="translate(25.70,387.10) rotate(-90)" font-size="7.9" fill="#161616" stroke="#161616" stroke-width="0.18">-0.5</text>
<rect x="40.15" y="363.30" width="19.50" height="4.00" fill="#85b9e0" stroke="#0c1822" stroke-width="1"/>
<rect x="68.70" y="363.30" width="19.50" height="2.00" fill="#85b9e0" stroke="#0c1822" stroke-width="1"/>
<rect x="97.25" y="363.30" width="19.50" height="1.00" fill="#85b9e0" stroke="#0c1822" stroke-width="1"/>
<rect x="125.80" y="363.30" width="19.50" height="3.10" fill="#85b9e0" stroke="#0c1822" stroke-width="1"/>
<rect x="154.35" y="363.00" width="19.50" height="0.60" fill="#85b9e0" stroke="#0c1822" stroke-width="1"/>
<line x1="30.30" y1="363.30" x2="179.50" y2="363.30" stroke="#161616" stroke-width="1.35"/>
<line x1="49.90" y1="362.60" x2="49.90" y2="371.00" stroke="#0a0a0a" stroke-width="1.25"/>
<line x1="47.30" y1="362.60" x2="52.50" y2="362.60" stroke="#0a0a0a" stroke-width="1.25"/>
<line x1="47.30" y1="371.00" x2="52.50" y2="371.00" stroke="#0a0a0a" stroke-width="1.25"/>
<line x1="78.45" y1="359.20" x2="78.45" y2="371.70" stroke="#0a0a0a" stroke-width="1.25"/>
<line x1="75.85" y1="359.20" x2="81.05" y2="359.20" stroke="#0a0a0a" stroke-width="1.25"/>
<line x1="75.85" y1="371.70" x2="81.05" y2="371.70" stroke="#0a0a0a" stroke-width="1.25"/>
<line x1="107.00" y1="357.40" x2="107.00" y2="372.50" stroke="#0a0a0a" stroke-width="1.25"/>
<line x1="104.40" y1="357.40" x2="109.60" y2="357.40" stroke="#0a0a0a" stroke-width="1.25"/>
<line x1="104.40" y1="372.50" x2="109.60" y2="372.50" stroke="#0a0a0a" stroke-width="1.25"/>
<line x1="135.55" y1="357.40" x2="135.55" y2="376.50" stroke="#0a0a0a" stroke-width="1.25"/>
<line x1="132.95" y1="357.40" x2="138.15" y2="357.40" stroke="#0a0a0a" stroke-width="1.25"/>
<line x1="132.95" y1="376.50" x2="138.15" y2="376.50" stroke="#0a0a0a" stroke-width="1.25"/>
<line x1="164.10" y1="359.50" x2="164.10" y2="369.40" stroke="#0a0a0a" stroke-width="1.25"/>
<line x1="161.50" y1="359.50" x2="166.70" y2="359.50" stroke="#0a0a0a" stroke-width="1.25"/>
<line x1="161.50" y1="369.40" x2="166.70" y2="369.40" stroke="#0a0a0a" stroke-width="1.25"/>
<text x="49.10" y="399.90" font-size="7.9" text-anchor="start" font-weight="normal" font-style="normal" fill="#161616" stroke="#161616" stroke-width="0.18" >Bz</text>
<text x="77.70" y="399.90" font-size="7.9" text-anchor="start" font-weight="normal" font-style="normal" fill="#161616" stroke="#161616" stroke-width="0.18" >Dex</text>
<text x="106.30" y="399.90" font-size="7.9" text-anchor="start" font-weight="normal" font-style="normal" fill="#161616" stroke="#161616" stroke-width="0.18" >Thal</text>
<text x="134.40" y="399.90" font-size="7.9" text-anchor="start" font-weight="normal" font-style="normal" fill="#161616" stroke="#161616" stroke-width="0.18" >Len</text>
<text x="163.10" y="399.90" font-size="7.9" text-anchor="start" font-weight="normal" font-style="normal" fill="#161616" stroke="#161616" stroke-width="0.18" >Mel</text>
<g fill="#222" stroke="#222" stroke-width="0.2"><text transform="translate(94.27,327.10) scale(0.75,1)" font-size="9.6">S</text><text transform="translate(100.35,327.10) scale(0.95,1)" font-size="9.6">D</text><text transform="translate(107.10,327.10) scale(0.82,1)" font-size="9.6">C</text><text transform="translate(114.81,327.10) scale(0.95,1)" font-size="9.6">1</text></g>
<line x1="204.30" y1="326.10" x2="204.30" y2="401.50" stroke="#161616" stroke-width="1.3"/>
<line x1="199.10" y1="326.70" x2="204.30" y2="326.70" stroke="#161616" stroke-width="1.3"/>
<text transform="translate(195.00,327.00) rotate(-90)" font-size="6.4" fill="#161616" stroke="#161616" stroke-width="0.18">2</text>
<line x1="199.10" y1="345.40" x2="204.30" y2="345.40" stroke="#161616" stroke-width="1.3"/>
<text transform="translate(195.00,345.70) rotate(-90)" font-size="6.4" fill="#161616" stroke="#161616" stroke-width="0.18">1</text>
<line x1="199.10" y1="363.40" x2="204.30" y2="363.40" stroke="#161616" stroke-width="1.3"/>
<text transform="translate(195.00,363.70) rotate(-90)" font-size="6.4" fill="#161616" stroke="#161616" stroke-width="0.18">0</text>
<line x1="199.10" y1="382.50" x2="204.30" y2="382.50" stroke="#161616" stroke-width="1.3"/>
<text transform="translate(195.00,382.80) rotate(-90)" font-size="6.4" fill="#161616" stroke="#161616" stroke-width="0.18">-1</text>
<line x1="199.10" y1="400.90" x2="204.30" y2="400.90" stroke="#161616" stroke-width="1.3"/>
<text transform="translate(195.00,401.20) rotate(-90)" font-size="6.4" fill="#161616" stroke="#161616" stroke-width="0.18">-2</text>
<rect x="209.25" y="361.70" width="19.50" height="1.70" fill="#85b9e0" stroke="#0c1822" stroke-width="1"/>
<rect x="237.80" y="360.40" width="19.50" height="3.00" fill="#85b9e0" stroke="#0c1822" stroke-width="1"/>
<rect x="266.35" y="341.30" width="19.50" height="22.10" fill="#85b9e0" stroke="#0c1822" stroke-width="1"/>
<rect x="294.90" y="337.20" width="19.50" height="26.20" fill="#85b9e0" stroke="#0c1822" stroke-width="1"/>
<line x1="199.10" y1="363.40" x2="348.30" y2="363.40" stroke="#161616" stroke-width="1.35"/>
<line x1="219.00" y1="359.00" x2="219.00" y2="364.40" stroke="#0a0a0a" stroke-width="1.25"/>
<line x1="216.40" y1="359.00" x2="221.60" y2="359.00" stroke="#0a0a0a" stroke-width="1.25"/>
<line x1="216.40" y1="364.40" x2="221.60" y2="364.40" stroke="#0a0a0a" stroke-width="1.25"/>
<line x1="247.55" y1="352.00" x2="247.55" y2="369.50" stroke="#0a0a0a" stroke-width="1.25"/>
<line x1="244.95" y1="352.00" x2="250.15" y2="352.00" stroke="#0a0a0a" stroke-width="1.25"/>
<line x1="244.95" y1="369.50" x2="250.15" y2="369.50" stroke="#0a0a0a" stroke-width="1.25"/>
<line x1="276.10" y1="330.60" x2="276.10" y2="351.30" stroke="#0a0a0a" stroke-width="1.25"/>
<line x1="273.50" y1="330.60" x2="278.70" y2="330.60" stroke="#0a0a0a" stroke-width="1.25"/>
<line x1="273.50" y1="351.30" x2="278.70" y2="351.30" stroke="#0a0a0a" stroke-width="1.25"/>
<line x1="304.65" y1="326.60" x2="304.65" y2="347.90" stroke="#0a0a0a" stroke-width="1.25"/>
<line x1="302.05" y1="326.60" x2="307.25" y2="326.60" stroke="#0a0a0a" stroke-width="1.25"/>
<line x1="302.05" y1="347.90" x2="307.25" y2="347.90" stroke="#0a0a0a" stroke-width="1.25"/>
<line x1="333.20" y1="360.00" x2="333.20" y2="367.80" stroke="#0a0a0a" stroke-width="1.25"/>
<line x1="330.60" y1="360.00" x2="335.80" y2="360.00" stroke="#0a0a0a" stroke-width="1.25"/>
<line x1="330.60" y1="367.80" x2="335.80" y2="367.80" stroke="#0a0a0a" stroke-width="1.25"/>
<text x="217.90" y="399.90" font-size="7.9" text-anchor="start" font-weight="normal" font-style="normal" fill="#161616" stroke="#161616" stroke-width="0.18" >Bz</text>
<text x="246.50" y="399.90" font-size="7.9" text-anchor="start" font-weight="normal" font-style="normal" fill="#161616" stroke="#161616" stroke-width="0.18" >Dex</text>
<text x="275.10" y="399.90" font-size="7.9" text-anchor="start" font-weight="normal" font-style="normal" fill="#161616" stroke="#161616" stroke-width="0.18" >Thal</text>
<text x="303.20" y="399.90" font-size="7.9" text-anchor="start" font-weight="normal" font-style="normal" fill="#161616" stroke="#161616" stroke-width="0.18" >Len</text>
<text x="331.90" y="399.90" font-size="7.9" text-anchor="start" font-weight="normal" font-style="normal" fill="#161616" stroke="#161616" stroke-width="0.18" >Mel</text>
<g fill="#222" stroke="#222" stroke-width="0.2"><text transform="translate(263.25,327.10) scale(0.95,1)" font-size="9.6">D</text><text transform="translate(269.51,327.10) scale(0.88,1)" font-size="9.6">K</text><text transform="translate(275.91,327.10) scale(0.88,1)" font-size="9.6">K</text><text transform="translate(285.11,327.10) scale(0.95,1)" font-size="9.6">1</text></g>
<text x="1.10" y="13.00" font-size="12" text-anchor="start" font-weight="bold" font-style="normal" fill="#000"  >A</text>
<text x="1.50" y="448.80" font-size="12" text-anchor="start" font-weight="bold" font-style="normal" fill="#000"  >B</text>
<ellipse cx="146.8" cy="491.8" rx="108.2" ry="57" fill="none" stroke="#1a1a1a" stroke-width="1.3"/>
<ellipse cx="147.0" cy="586.2" rx="127.5" ry="67.4" fill="none" stroke="#1a1a1a" stroke-width="1.3"/>
<line x1="167.70" y1="435.50" x2="167.70" y2="653.20" stroke="#1a1a1a" stroke-width="1.3"/>
<text x="72.40" y="490.30" font-size="8.55" text-anchor="start" font-weight="bold" font-style="normal" fill="#1e1e1e"  >Unfavorable genes by</text>
<text x="72.40" y="499.90" font-size="8.55" text-anchor="start" font-weight="bold" font-style="normal" fill="#1e1e1e"  >GEP70 (total 51)</text>
<text x="170.40" y="490.30" font-size="8.55" text-anchor="start" font-weight="bold" font-style="normal" fill="#1e1e1e"  >Favorable genes by</text>
<text x="170.40" y="499.90" font-size="8.55" text-anchor="start" font-weight="bold" font-style="normal" fill="#1e1e1e"  >GEP70 (total 19)</text>
<text x="62.20" y="583.70" font-size="8.55" text-anchor="start" font-weight="bold" font-style="normal" fill="#1e1e1e"  >Unfavorable genes by</text>
<text x="62.20" y="593.30" font-size="8.55" text-anchor="start" font-weight="bold" font-style="normal" fill="#1e1e1e"  >GEP80 (total 42)</text>
<text x="170.40" y="583.70" font-size="8.55" text-anchor="start" font-weight="bold" font-style="normal" fill="#1e1e1e"  >Favorable genes by</text>
<text x="170.40" y="593.30" font-size="8.55" text-anchor="start" font-weight="bold" font-style="normal" fill="#1e1e1e"  >GEP80 (total 38)</text>
<text x="124.60" y="530.70" font-size="8.55" text-anchor="middle" font-weight="bold" font-style="italic" fill="#1e1e1e"  >PSMD4</text>
<text x="125.00" y="540.50" font-size="8.55" text-anchor="middle" font-weight="bold" font-style="italic" fill="#1e1e1e"  >BIRC5</text>
<text x="170.40" y="535.50" font-size="8.55" text-anchor="start" font-weight="bold" font-style="italic" fill="#1e1e1e"  >KIAA1754</text>
</svg>
</body></html>
